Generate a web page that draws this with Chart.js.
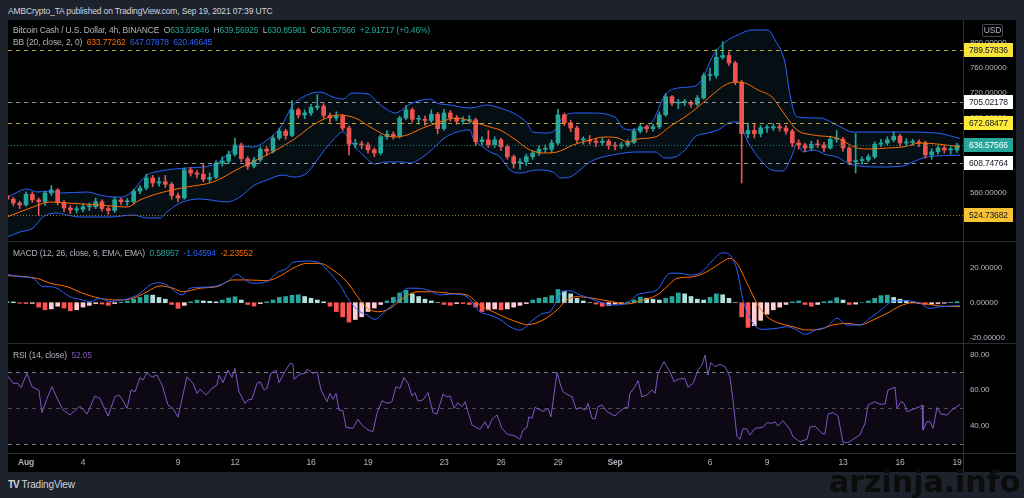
<!DOCTYPE html>
<html>
<head>
<meta charset="utf-8">
<title>BCHUSD 4h - BINANCE</title>
<script src="https://cdn.jsdelivr.net/npm/chart.js@4.4.1/dist/chart.umd.min.js"></script>
<style>
  body { margin:0; width:1024px; height:498px; background:#1e222d; overflow:hidden; position:relative;
         font-family:"Liberation Sans", Arial, sans-serif; font-size:8.5px; letter-spacing:-0.15px; color:#b2b5be; }
  .abs { position:absolute; white-space:nowrap; }
  #panel { left:8px; top:20px; width:1008px; height:452px; background:#000; }
  canvas { position:absolute; left:8px; }
  .hl { position:absolute; left:8px; width:1008px; height:1px; background:#2a2e39; z-index:2; }
  .vl { position:absolute; left:963px; top:20px; width:1px; height:452px; background:#2a2e39; z-index:2; }
  .lg { position:absolute; left:13px; white-space:nowrap; z-index:3; line-height:11px; color:#b2b5be; }
  .teal { color:#26a69a; } .orange { color:#ff6d00; } .blue { color:#2962ff; } .purple { color:#7e57c2; }
</style>
</head>
<body>
<div class="abs" style="left:8px;top:6px;color:#d1d4dc;">AMBCrypto_TA published on TradingView.com, Sep 19, 2021 07:39 UTC</div>
<div class="abs" id="panel"></div>
<canvas id="cMain" width="1008" height="221" style="top:20px"></canvas>
<canvas id="cMacd" width="1008" height="102" style="top:241px"></canvas>
<canvas id="cRsi" width="1008" height="129" style="top:343px"></canvas>
<div class="hl" style="top:241px"></div>
<div class="hl" style="top:343px"></div>
<div class="hl" style="top:453px"></div>
<div class="vl"></div>

<div class="lg" style="top:25px">Bitcoin Cash / U.S. Dollar, 4h, BINANCE&nbsp;&nbsp;O<span class="teal">633.65846</span>&nbsp;&nbsp;H<span class="teal">639.56925</span>&nbsp;&nbsp;L<span class="teal">630.85981</span>&nbsp;&nbsp;C<span class="teal">636.57566</span>&nbsp;&nbsp;<span class="teal">+2.91717 (+0.46%)</span></div>
<div class="lg" style="top:37px">BB (20, close, 2, 0)&nbsp;&nbsp;<span class="orange">633.77262</span>&nbsp;&nbsp;<span class="blue">647.07878</span>&nbsp;&nbsp;<span class="blue">620.46645</span></div>
<div class="lg" style="top:248px">MACD (12, 26, close, 9, EMA, EMA)&nbsp;&nbsp;<span class="teal">0.58957</span>&nbsp;&nbsp;<span class="blue">-1.64594</span>&nbsp;&nbsp;<span class="orange">-2.23552</span></div>
<div class="lg" style="top:350px">RSI (14, close)&nbsp;&nbsp;<span class="purple">52.05</span></div>
<div class="abs" style="left:982px;top:24px;width:19px;height:11px;border:1px solid #434651;border-radius:2px;text-align:center;line-height:11px;z-index:3;">USD</div>

<div class="abs" style="left:8px;top:479px;color:#d1d4dc;font-size:10px;"><b style="letter-spacing:-1px;">TV</b>&nbsp;TradingView</div>
<div class="abs" style="left:829px;top:464px;font:bold 30px 'DejaVu Sans', sans-serif;letter-spacing:0;line-height:36px;color:#0c0c0c;z-index:4;">arzinja.info</div>

<script>
// ---- price, 8h steps starting Jul 31 00:00 (days from Aug 1) ----
const firstDay = -1;
const firstOpen = 556;
const closes = [550,544,541,558,549,546,560,565,545,536,
  533,534,538,538,546,535,532,549,546,546,
  563,568,584,576,578,574,556,552,597,592,
  590,582,585,608,611,622,637,615,603,613,
  630,627,648,659,652,693,685,688,697,699,
  684,680,683,664,638,638,637,629,624,650,
  654,651,680,693,678,678,676,686,663,688,
  680,675,676,677,642,645,637,645,634,618,
  608,610,618,624,630,630,640,685,672,664,
  645,645,643,641,643,636,635,637,641,659,
  666,663,666,685,714,704,705,705,702,712,
  748,748,777,780,768,737,655,660,655,664,
  664,666,664,659,640,637,632,638,637,632,
  646,646,632,610,612,613,618,638,640,645,
  651,640,641,641,640,621,626,632,629,629,
  636.58];
const highs = [560,553,547,562,561,552,563,572,567,548,
  540,539,543,544,552,549,538,553,552,551,
  566,572,590,588,585,588,577,560,600,601,
  596,606,592,612,618,627,648,640,618,617,
  634,634,652,664,662,708,696,693,702,717,
  703,688,690,686,667,646,643,641,632,653,
  660,658,683,700,696,684,683,693,689,694,
  692,684,682,684,680,650,660,650,648,637,
  621,615,622,628,636,637,645,694,688,676,
  667,650,652,648,648,646,641,641,645,663,
  671,669,670,690,719,716,710,710,708,716,
  752,760,790,802,786,771,740,672,670,668,
  669,671,670,668,662,645,640,643,645,641,
  651,660,649,634,655,618,622,642,646,650,
  658,654,647,646,645,643,631,636,636,634,
  639.57];
const lows = [546,540,535,539,545,524,540,556,541,530,
  527,528,530,532,535,531,526,529,541,540,
  543,559,565,570,571,569,550,546,550,587,
  584,578,577,583,603,607,619,610,598,600,
  610,620,624,645,646,650,680,679,684,693,
  680,673,676,660,621,632,631,624,618,621,
  646,646,648,677,673,670,668,672,655,660,
  675,670,670,671,636,637,633,633,628,614,
  600,598,604,614,620,625,624,637,668,658,
  640,638,638,634,636,630,629,631,634,639,
  656,657,659,663,683,700,695,700,697,699,
  710,740,744,774,764,733,576,648,648,650,
  657,660,659,654,634,630,626,628,633,626,
  630,641,627,605,592,606,610,615,634,637,
  642,635,636,636,634,616,614,622,624,622,
  625];

// ---- Bollinger bands (day, price) ----
const bbUpperDay = [-0.95,0.05,0.58,1.26,1.79,3.21,3.89,4.58,4.95,5.63,6.0,6.37,7.05,8.47,9.84,10.58,11.26,11.95,12.68,13.37,14.05,14.79,15.47,16.16,16.68,17.16,18.0,18.53,19.05,19.42,20.21,21.26,21.63,22.32,23.37,24.26,24.95,25.84,26.37,26.68,27.42,27.84,28.26,29.0,29.68,31.0,31.37,31.79,32.21,32.95,33.63,34.32,35.21,35.63,36.11,36.79,37.47,38.21,39.05,39.42,39.95,40.21,40.58,41.79,42.68,43.53,46.16,47.95,49.16];
const bbUpper = [553.6,566.4,561.6,563.2,560,561.6,556.8,553.6,553.6,563.2,577.6,588.8,595.2,600,604.8,620.8,635.2,633.6,644.8,664,700.8,716.8,721.6,713.6,710.4,720,718.4,704,692.8,688,702.4,710.4,704,700.8,696,700.8,696,684.8,672,657.6,656,660.8,681.6,688,688,681.6,665.6,660.8,662.4,673.6,716.8,728,731.2,744,777.6,801.6,812.8,820.8,820.8,804.8,768,716.8,681.6,680,668.8,657.6,657.6,656,647.1];
const bbLowerDay = [-1.0,-0.32,0.37,0.89,1.63,2.16,2.84,4.42,5.63,6.37,7.05,7.42,8.11,9.16,10.58,11.26,11.95,12.68,13.53,14.05,14.79,15.32,16.16,16.68,16.95,17.32,17.84,18.37,18.89,19.84,20.21,20.89,21.63,21.95,22.68,23.37,23.53,24.05,24.42,24.95,25.47,26.0,26.89,27.74,28.11,28.63,29.16,29.68,31.16,32.21,33.11,33.63,34.16,34.68,35.21,35.89,36.42,37.16,37.47,38.0,38.53,39.26,39.84,40.37,40.58,40.89,41.42,42.16,42.68,43.21,43.89,44.95,46.16,46.68,47.42,49.16];
const bbLower = [489.6,497.6,504,521.6,528,524.8,521.6,521.6,524.8,520,520,529.6,544,550.4,545.6,553.6,571.2,580.8,588.8,585.6,592,612.8,644.8,657.6,649.6,633.6,617.6,606.4,609.6,609.6,608,617.6,636.8,646.4,657.6,660.8,648,633.6,625.6,617.6,596.8,592,596.8,593.6,584,585.6,596.8,609.6,622.4,625.6,625.6,616,617.6,628.8,649.6,656,660.8,673.6,673.6,641.6,617.6,596.8,595.2,624,640,625.6,628.8,620.8,617.6,608,603.2,601.6,603.2,609.6,617.6,620.5];
const bbBasisDay = [-1.0,0.37,1.26,2.16,3.89,5.32,6.0,7.05,8.47,9.84,11.26,12.68,14.05,15.11,15.58,16.42,17.32,18.21,18.89,19.42,20.05,20.89,21.79,22.68,23.53,24.42,24.95,25.63,26.53,27.21,27.95,28.79,29.68,30.47,31.16,31.68,32.21,33.11,34.0,34.68,35.37,36.11,36.79,37.32,37.84,38.53,39.26,39.95,40.58,41.42,42.68,43.74,44.42,45.32,46.16,47.05,47.95,49.16];
const bbBasis = [521.6,537.6,545.6,544,540.8,537.6,548.8,560,569.6,577.6,600,620.8,644.8,668.8,676.8,684.8,680,664,652.8,649.6,652.8,664,673.6,680,673.6,665.6,660.8,648,628.8,624,625.6,636.8,644.8,649.6,648,641.6,646.4,649.6,668.8,681.6,697.6,716.8,732.8,737.6,736,724.8,713.6,684.8,660.8,652.8,648,632,630.4,632,633.6,640,638.4,633.8];

// ---- horizontal levels on the price pane ----
const levelValues = [789.57836, 705.02178, 672.68477, 636.57566, 608.74764, 524.73682];

// ---- MACD ----
const macdDay = [-1.0,-0.32,0.37,0.89,1.26,1.63,2.32,2.84,3.37,3.89,4.42,4.95,5.47,6.0,6.53,6.95,7.42,7.74,8.21,8.63,9.16,9.84,10.58,11.11,11.42,11.95,12.68,13.21,13.74,14.05,14.95,15.47,16.0,16.53,17.05,17.58,17.95,18.37,18.79,19.53,20.05,20.58,21.26,21.79,22.47,23.21,23.89,24.42,24.95,25.47,26.0,26.68,27.21,27.58,27.95,28.26,28.63,29.16,29.68,30.37,30.89,31.63,32.16,32.68,33.21,33.89,34.42,34.95,35.47,35.84,36.16,36.68,37.05,37.42,37.74,38.26,38.79,39.53,40.05,40.58,41.0,41.63,42.16,42.68,43.21,43.89,44.42,45.11,45.63,46.37,47.05,47.58,48.11,49.16];
const macdLine = [16.1,14.7,13.8,9.1,9.1,8.2,3.4,1.9,0.6,2.5,0.6,1.5,2.5,5.3,10.0,11.3,10.0,7.2,4.4,8.2,8.7,9.1,11.9,16.1,13.8,11.0,11.9,17.0,19.5,22.9,23.6,22.3,16.7,10.0,0.6,-5.1,-7.0,-9.4,-6.0,1.5,8.2,8.2,6.8,4.4,4.9,3.4,-5.1,-7.0,-9.5,-13.6,-15.5,-9.8,-6.0,-5.1,1.5,6.2,6.8,4.4,2.5,-0.3,-1.3,-0.3,4.4,5.7,7.2,16.7,16.7,15.7,16.7,20.4,24.2,28.3,27.0,18.5,1.5,-11.7,-15.1,-14.5,-13.6,-15.5,-17.9,-15.1,-13.6,-8.8,-12.6,-12.6,-8.8,-3.2,1.0,1.1,-0.3,-3.2,-2.3,-1.65];
const signalDay = [-1.0,0.05,0.74,1.26,2.16,3.0,3.89,4.79,5.63,6.37,7.05,7.74,8.26,9.16,10.05,10.89,11.63,12.68,13.37,14.05,14.79,15.47,16.16,16.89,17.58,18.11,18.63,19.16,19.84,20.58,21.42,22.32,23.21,23.89,24.58,25.32,26.0,26.37,27.21,27.95,28.47,29.0,29.68,30.58,31.63,32.47,33.21,33.74,34.26,35.11,35.84,36.53,37.05,37.42,37.95,38.47,39.0,39.68,40.37,41.11,41.79,42.47,43.21,43.89,44.58,45.32,46.0,46.68,47.42,48.11,49.16];
const signalLine = [15.3,14.7,13.3,11.0,9.1,5.3,2.5,1.5,2.5,6.2,9.5,8.2,6.2,8.2,9.1,12.9,12.9,12.5,15.1,19.5,22.3,22.3,18.5,11.9,1.5,-4.1,-5.1,-3.2,2.5,6.2,6.2,5.3,4.4,-1.3,-5.1,-8.8,-11.5,-12.5,-9.8,-4.1,1.5,3.4,2.8,1.1,-0.7,1.5,4.4,9.1,13.8,14.7,17.6,22.3,25.2,22.3,11.0,-0.3,-7.9,-11.7,-13.6,-15.5,-15.1,-12.6,-11.7,-12.6,-9.8,-6.0,-1.9,0,-0.7,-1.9,-2.24];
// histogram, one value per candle
const histVals = [0.8,0.4,-0.3,-0.5,-0.4,-2.5,-4,-3.5,-2,-3,
  -4.5,-4,-2.5,-1.5,-0.5,-0.8,-1.5,-0.5,0.3,1,
  2,3,4.4,4.3,3,2,-1,-3.2,-1.5,0.5,
  1.5,1,0.8,0.5,1.5,2.7,3.4,1.5,-1,-1.9,
  -0.5,0.5,1.5,3,3.5,4.2,4.5,3.5,2.5,1.5,
  0.5,-2,-5,-8,-11,-9.5,-8,-5,-3,-1,
  1,3,5.5,7,5,3.5,2,1,0,-1,
  -1.5,-0.5,-0.5,-1,-2.5,-5,-4,-3.5,-4,-3.5,
  -2.5,-1.5,-0.5,1.5,2.5,3,4,7.5,6.5,5,
  2.5,1,0,-0.8,-2,-1.5,-0.8,-0.5,0.3,1.5,
  3.2,2.5,2,1.5,2.5,3.5,5.5,5,3.5,2,
  1.5,3,5,4.5,2.5,0,-8,-14,-13,-10,
  -6.5,-4,-2.5,-1,0.5,1,-1,-2,-1,0.5,
  1,2.8,1.5,-1,-0.8,0,1,2.5,4,4.3,
  3,2,1,0.3,-0.5,-1,-0.8,-0.5,-0.3,0.2,
  0.59];

// ---- RSI ----
const rsiDay = [-1.0,-0.68,-0.42,-0.26,0.05,0.32,0.68,0.84,1.11,1.37,
  1.68,1.95,2.32,2.84,3.21,3.63,3.89,4.32,4.68,4.89,
  5.11,5.32,5.53,5.74,6.0,6.16,6.37,6.63,6.89,7.16,
  7.47,7.74,8.0,8.47,8.79,9.0,9.16,9.47,9.79,10.05,
  10.16,10.37,10.63,10.84,11.0,11.21,11.53,11.68,11.89,12.16,
  12.32,12.53,12.68,12.89,13.16,13.32,13.53,13.89,14.05,14.11,
  14.42,14.68,14.79,15.11,15.32,15.53,15.84,16.0,16.16,16.32,
  16.47,16.68,16.84,17.21,17.47,17.68,18.0,18.26,18.47,18.74,
  19.0,19.26,19.47,19.68,19.89,20.11,20.32,20.47,20.63,20.89,
  21.16,21.42,21.63,21.95,22.16,22.32,22.53,22.74,22.95,23.11,
  23.47,23.89,24.16,24.32,24.53,24.79,25.05,25.32,25.74,26.0,
  26.16,26.37,26.47,26.63,26.79,27.16,27.32,27.47,27.63,27.95,
  28.11,28.26,28.53,28.74,28.95,29.16,29.42,29.58,29.79,29.95,
  30.11,30.32,30.58,31.0,31.26,31.53,31.68,31.79,32.05,32.21,
  32.42,32.68,32.95,33.11,33.26,33.58,33.89,34.11,34.32,34.68,
  34.84,35.11,35.37,35.58,35.74,35.89,36.05,36.26,36.53,36.79,
  37.05,37.21,37.42,37.58,37.74,37.95,38.11,38.37,38.79,39.0,
  39.26,39.42,39.58,39.84,40.21,40.37,40.74,41.11,41.26,41.53,
  41.89,42.05,42.21,42.47,42.74,43.0,43.26,43.89,44.16,44.32,
  44.68,44.95,45.21,45.37,45.74,45.84,46.05,46.21,46.37,46.68,
  47.05,47.16,47.21,47.42,47.58,47.74,47.95,48.16,48.47,48.74,
  49.16];
const rsiVals = [68.5,63.8,63.8,61.4,69.4,61.9,60,47.4,55.4,61.9,
  54.5,48.9,46.1,51.1,46.6,56.7,55.4,45.5,56.3,57.3,
  54.1,49.8,60.1,59.1,67,65.7,69.8,67.2,68.5,62.9,
  51.7,49.8,44.8,67.5,63.8,58.2,60.5,57.3,61,62.9,
  68.5,64.2,71.3,67.2,72.2,59.1,52.6,54.5,54.9,63.8,
  64.7,60.1,61,69.4,71.3,64.2,68.5,75,74.6,66.1,
  69,69.4,71.7,69.4,70.3,60.1,53.5,58.2,54.9,58.2,
  48.9,48.5,39.2,38.6,43.7,40.5,37.7,36.7,47,54.1,
  52.6,53.5,61.9,61,67,63.8,56.7,58.6,53.9,54.5,
  58.6,47.4,46.6,57.8,56.3,56.7,49.8,53,50.7,53.5,
  40.5,38,42.3,38.6,43.7,46.1,38.6,35.4,34.3,32.5,
  37.7,39.2,45.1,44.2,50.4,48.3,48.5,49.8,45.1,70,
  63.8,59.1,57.3,56.3,49.3,50.2,48.9,52.6,44.2,43.8,
  50.7,51.7,47.9,45.5,48.3,50.2,50.2,58.2,61.9,65.3,
  56.3,57.3,60.1,58.2,69.4,75.9,70.3,64.7,66.1,66.6,
  61.6,63.8,71.3,74.1,79.7,68.5,75.4,73.1,74.5,73.1,
  67.5,54.5,33.9,32.5,38.6,38,34.9,38.6,39.2,41.8,
  41.4,42.3,39.9,42.9,38,33.9,31.1,32.5,39.2,39.9,
  35.8,35.4,46.6,47.4,45.5,30.6,30.6,34.9,41.4,51.7,
  53.5,52.1,52.2,60.1,61.6,49.8,53.5,52.6,47.9,49.3,
  50.7,51.7,37.7,42.3,42.3,38.6,50.2,46.6,46.1,48.9,
  52.05];

// ---- axis ticks ----
const dayTicks = [0,3,8,11,15,18,22,25,28,31,36,39,43,46,49];
const dayLabels = ['Aug','4','9','12','16','19','23','26','29','Sep','6','9','13','16','19'];
const priceTicks = [520,560,600,640,680,720,760,800];
const macdTicks = [-20,0,20];
const rsiTicks = [40,60,80];

// ---------------------------------------------------------------
const X_MIN = -0.947, X_MAX = 49.316, AXIS_W = 53;
const UP = '#26a69a', DOWN = '#ef5350';

Chart.defaults.font.family = '"Liberation Sans", Arial, sans-serif';
Chart.defaults.font.size = 8;
Chart.defaults.color = '#b2b5be';

const opens = closes.map((c, i) => i ? closes[i - 1] : firstOpen);
const candleDay = closes.map((c, i) => firstDay + i / 3);
const candleColor = closes.map((c, i) => c >= opens[i] ? UP : DOWN);
const pts = (xs, ys) => xs.map((x, i) => ({x: x, y: ys[i]}));

function xAxis() {
  return {type: 'linear', display: false, min: X_MIN, max: X_MAX, offset: false};
}
function yAxis(min, max, ticks, fmt) {
  return {
    position: 'right', min: min, max: max, beginAtZero: false,
    grid: {display: false, drawTicks: false}, border: {display: false},
    afterBuildTicks: s => { s.ticks = ticks.map(v => ({value: v})); },
    afterFit: s => { s.width = AXIS_W; s.paddingTop = 0; s.paddingBottom = 0; },
    ticks: {color: '#b2b5be', padding: 7, autoSkip: false, callback: fmt}
  };
}
const baseOpts = {
  responsive: false, animation: false, events: [],
  layout: {padding: 0},
  plugins: {legend: {display: false}, tooltip: {enabled: false}}
};
function line(data, color, order, smooth) {
  return {type: 'line', data: data, borderColor: color, borderWidth: 1, pointRadius: 0,
          fill: false, order: order, cubicInterpolationMode: smooth ? 'monotone' : 'default', tension: 0};
}

// level lines and their price boxes
const levelStyles = [
  {line: '#b9a530', dash: [4, 4], box: '#f5e33c', text: '#131722'},
  {line: '#9598a1', dash: [4, 4], box: '#ffffff', text: '#131722'},
  {line: '#b9a530', dash: [4, 4], box: '#ffeb3b', text: '#131722'},
  {line: '#1f7a70', dash: [1, 2], box: '#26a69a', text: '#ffffff'},
  {line: '#9598a1', dash: [4, 4], box: '#ffffff', text: '#131722'},
  {line: '#9a7526', dash: [1, 2], box: '#f7c234', text: '#131722'}
];
const levelPlugin = {
  id: 'levels',
  afterDatasetsDraw(chart) {
    const {ctx, chartArea: a, scales: {y}} = chart;
    ctx.save();
    ctx.lineWidth = 1;
    levelValues.forEach((v, i) => {
      const py = Math.round(y.getPixelForValue(v)) + 0.5;
      ctx.strokeStyle = levelStyles[i].line;
      ctx.setLineDash(levelStyles[i].dash);
      ctx.beginPath(); ctx.moveTo(a.left, py); ctx.lineTo(a.right, py); ctx.stroke();
    });
    ctx.restore();
  },
  afterDraw(chart) {
    const {ctx, chartArea: a, scales: {y}} = chart;
    ctx.save();
    ctx.font = '8.5px "Liberation Sans", Arial, sans-serif';
    ctx.textBaseline = 'middle';
    levelValues.forEach((v, i) => {
      const py = Math.round(y.getPixelForValue(v));
      ctx.fillStyle = levelStyles[i].box;
      ctx.fillRect(a.right, py - 7, 50, 14);
      ctx.fillStyle = levelStyles[i].text;
      ctx.fillText(v.toFixed(5), a.right + 6, py + 0.5);
    });
    ctx.restore();
  }
};

new Chart(document.getElementById('cMain'), {
  type: 'bar',
  data: {
    datasets: [
      Object.assign(line(pts(bbUpperDay, bbUpper), '#2962ff', 5, true),
                    {fill: '+1', backgroundColor: 'rgba(40,140,190,0.1)'}),
      line(pts(bbLowerDay, bbLower), '#2962ff', 5, true),
      {type: 'bar', data: candleDay.map((d, i) => ({x: d, y: [lows[i], highs[i]]})),
       backgroundColor: candleColor, barThickness: 1, grouped: false, order: 3},
      {type: 'bar', data: candleDay.map((d, i) => ({x: d, y: [opens[i], closes[i]]})),
       backgroundColor: candleColor, barThickness: 4, minBarLength: 1, grouped: false, order: 2},
      line(pts(bbBasisDay, bbBasis), '#ff6d00', 1, true)
    ]
  },
  options: Object.assign({}, baseOpts, {
    scales: {x: xAxis(), y: yAxis(483.2, 836.8, priceTicks, v => v.toFixed(5))}
  }),
  plugins: [levelPlugin]
});

// MACD histogram colours follow TradingView: rising/falling above/below zero
const histColor = histVals.map((v, i) => {
  const prev = i ? histVals[i - 1] : v;
  if (v >= 0) return v >= prev ? '#26a69a' : '#b2dfdb';
  return v <= prev ? '#ff5252' : '#ffcdd2';
});

new Chart(document.getElementById('cMacd'), {
  type: 'bar',
  data: {
    datasets: [
      {type: 'bar', data: candleDay.map((d, i) => ({x: d, y: histVals[i]})),
       backgroundColor: histColor, barThickness: 4, grouped: false, order: 3},
      line(pts(macdDay, macdLine), '#2962ff', 1, true),
      line(pts(signalDay, signalLine), '#ff6d00', 2, true)
    ]
  },
  options: Object.assign({}, baseOpts, {
    scales: {x: xAxis(), y: yAxis(-22.83, 34.96, macdTicks, v => v.toFixed(5))}
  })
});

const rsiBand = {
  id: 'rsiBand',
  beforeDatasetsDraw(chart) {
    const {ctx, chartArea: a, scales: {y}} = chart;
    const y70 = y.getPixelForValue(70), y30 = y.getPixelForValue(30), y50 = y.getPixelForValue(50);
    ctx.save();
    ctx.fillStyle = 'rgba(126,87,194,0.1)';
    ctx.fillRect(a.left, y70, a.right - a.left, y30 - y70);
    ctx.lineWidth = 1;
    [[y70, '#787b86', [4, 4]], [y50, 'rgba(120,123,134,0.6)', [4, 4]], [y30, '#787b86', [4, 4]]].forEach(l => {
      ctx.strokeStyle = l[1]; ctx.setLineDash(l[2]);
      ctx.beginPath(); ctx.moveTo(a.left, Math.round(l[0]) + 0.5); ctx.lineTo(a.right, Math.round(l[0]) + 0.5); ctx.stroke();
    });
    ctx.restore();
  }
};

new Chart(document.getElementById('cRsi'), {
  type: 'line',
  data: {datasets: [line(pts(rsiDay, rsiVals), '#7e57c2', 1, false)]},
  options: Object.assign({}, baseOpts, {
    scales: {
      x: {
        type: 'linear', min: X_MIN, max: X_MAX, offset: false,
        grid: {display: false, drawTicks: false}, border: {display: false},
        afterBuildTicks: s => { s.ticks = dayTicks.map(v => ({value: v})); },
        afterFit: s => { s.height = 19; s.paddingLeft = 0; s.paddingRight = 0; },
        ticks: {
          color: '#b2b5be', padding: 5, autoSkip: false, maxRotation: 0,
          font: c => ({size: 8.5, weight: (c.tick && (c.tick.value === 0 || c.tick.value === 31)) ? 'bold' : 'normal'}),
          callback: v => dayLabels[dayTicks.indexOf(v)]
        }
      },
      y: yAxis(24.79, 86.41, rsiTicks, v => v.toFixed(2))
    }
  }),
  plugins: [rsiBand]
});
</script>
</body>
</html>
